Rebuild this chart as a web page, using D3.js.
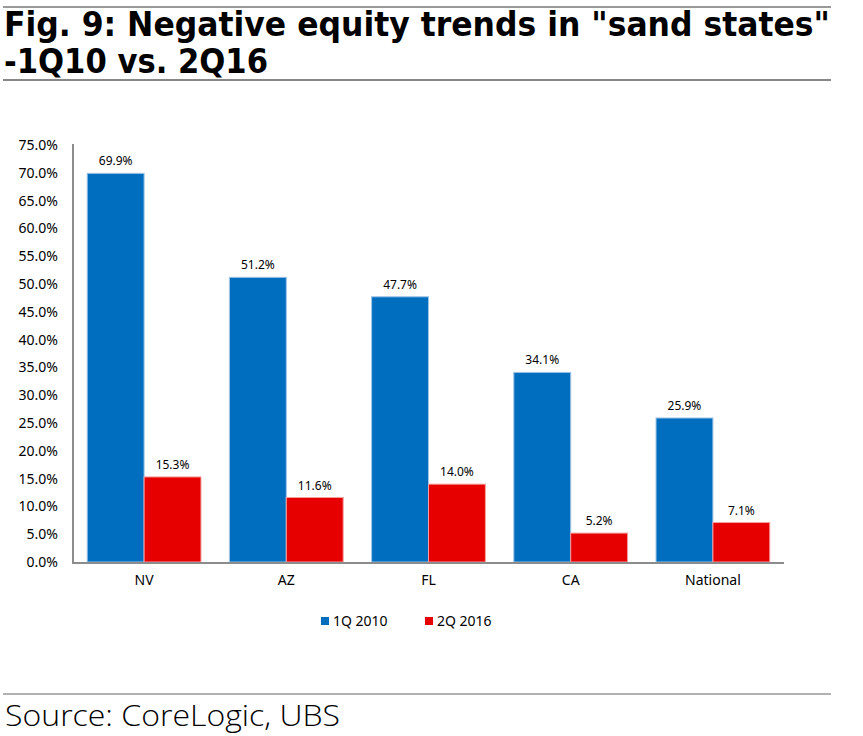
<!DOCTYPE html>
<html><head><meta charset="utf-8">
<script src="https://cdn.jsdelivr.net/npm/d3@7"></script>
<style>body{margin:0;background:#fff}svg{display:block}</style>
</head><body>
<script>
const categories = ["NV", "AZ", "FL", "CA", "National"];
const seriesNames = ["1Q 2010", "2Q 2016"];
const values1Q2010 = [69.9, 51.2, 47.7, 34.1, 25.9];
const values2Q2016 = [15.3, 11.6, 14.0, 5.2, 7.1];
const yTicks = [0, 5, 10, 15, 20, 25, 30, 35, 40, 45, 50, 55, 60, 65, 70, 75];
const colors = ["#006EBE", "#E60000"];
const strokes = ["#9DC3E6", "#F4A0A0"];

const W = 863, H = 736;
const svg = d3.select("body").append("svg").attr("width", W).attr("height", H);

// title
svg.append("line").attr("x1", 3).attr("x2", 831).attr("y1", 7).attr("y2", 7).attr("stroke", "#777").attr("stroke-width", 1.5);
svg.append("line").attr("x1", 3).attr("x2", 831).attr("y1", 80).attr("y2", 80).attr("stroke", "#888").attr("stroke-width", 2);
const tf = "'DejaVu Sans Condensed','DejaVu Sans',sans-serif";
svg.append("text").attr("x", 4).attr("y", 36).attr("font-family", tf).attr("font-weight", "bold").attr("font-size", 34)
  .attr("textLength", 826).attr("lengthAdjust", "spacingAndGlyphs").text('Fig. 9: Negative equity trends in "sand states"');
svg.append("text").attr("x", 4).attr("y", 73).attr("font-family", tf).attr("font-weight", "bold").attr("font-size", 34)
  .attr("textLength", 264).attr("lengthAdjust", "spacingAndGlyphs").text('-1Q10 vs. 2Q16');

// source
svg.append("line").attr("x1", 3).attr("x2", 831).attr("y1", 694).attr("y2", 694).attr("stroke", "#666").attr("stroke-width", 1.2);
svg.append("text").attr("x", 5).attr("y", 726).attr("font-family", "'Open Sans',sans-serif").attr("font-weight", 300).attr("font-size", 29)
  .attr("textLength", 335).attr("lengthAdjust", "spacingAndGlyphs").text("Source: CoreLogic, UBS");

// chart
const x0 = 73, x1 = 784, yTop = 145, yBot = 562;
const x = d3.scaleBand().domain(categories).range([x0, x1]).paddingInner(0.2).paddingOuter(0.1);
const xs = d3.scaleBand().domain(seriesNames).range([0, x.bandwidth()]);
const y = d3.scaleLinear().domain([0, 75]).range([yBot, yTop]);

const f = "'Noto Sans','Open Sans',sans-serif";
const yAxis = svg.append("g").attr("transform", `translate(${x0},0)`)
  .call(d3.axisLeft(y).tickValues(yTicks).tickSize(0).tickPadding(15).tickFormat(d => d.toFixed(1) + "%"));
yAxis.select(".domain").remove();
yAxis.selectAll("text").attr("font-family", f).attr("font-size", 14).attr("fill", "#000");

const data = categories.map((c, i) => ({cat: c, vals: [values1Q2010[i], values2Q2016[i]]}));
const g = svg.append("g");
data.forEach(d => {
  d.vals.forEach((v, j) => {
    const bx = x(d.cat) + xs(seriesNames[j]);
    g.append("rect").attr("x", bx).attr("y", y(v)).attr("width", xs.bandwidth()).attr("height", y(0) - y(v))
      .attr("fill", colors[j]).attr("stroke", strokes[j]).attr("stroke-width", 1);
    g.append("text").attr("x", bx + xs.bandwidth() / 2).attr("y", y(v) - 8).attr("text-anchor", "middle")
      .attr("font-family", f).attr("font-size", 12).attr("fill", "#000").text(v.toFixed(1) + "%");
  });
});

// axes lines
svg.append("line").attr("x1", x0).attr("x2", x0).attr("y1", yTop - 1).attr("y2", yBot + 1).attr("stroke", "#8c8c8c").attr("stroke-width", 2);
svg.append("line").attr("x1", x0 - 1).attr("x2", x1).attr("y1", yBot + 1).attr("y2", yBot + 1).attr("stroke", "#8c8c8c").attr("stroke-width", 2);

const xAxis = svg.append("g").attr("transform", `translate(0,${yBot + 1})`)
  .call(d3.axisBottom(x).tickSize(0).tickPadding(12));
xAxis.select(".domain").remove();
xAxis.selectAll("text").attr("font-family", f).attr("font-size", 14).attr("fill", "#000");

// legend
const legX = [321, 425];
seriesNames.forEach((s, j) => {
  svg.append("rect").attr("x", legX[j]).attr("y", 617).attr("width", 8).attr("height", 8).attr("fill", colors[j]);
  svg.append("text").attr("x", legX[j] + 12).attr("y", 626).attr("font-family", f).attr("font-size", 14).attr("fill", "#000").text(s);
});
</script>
</body></html>
